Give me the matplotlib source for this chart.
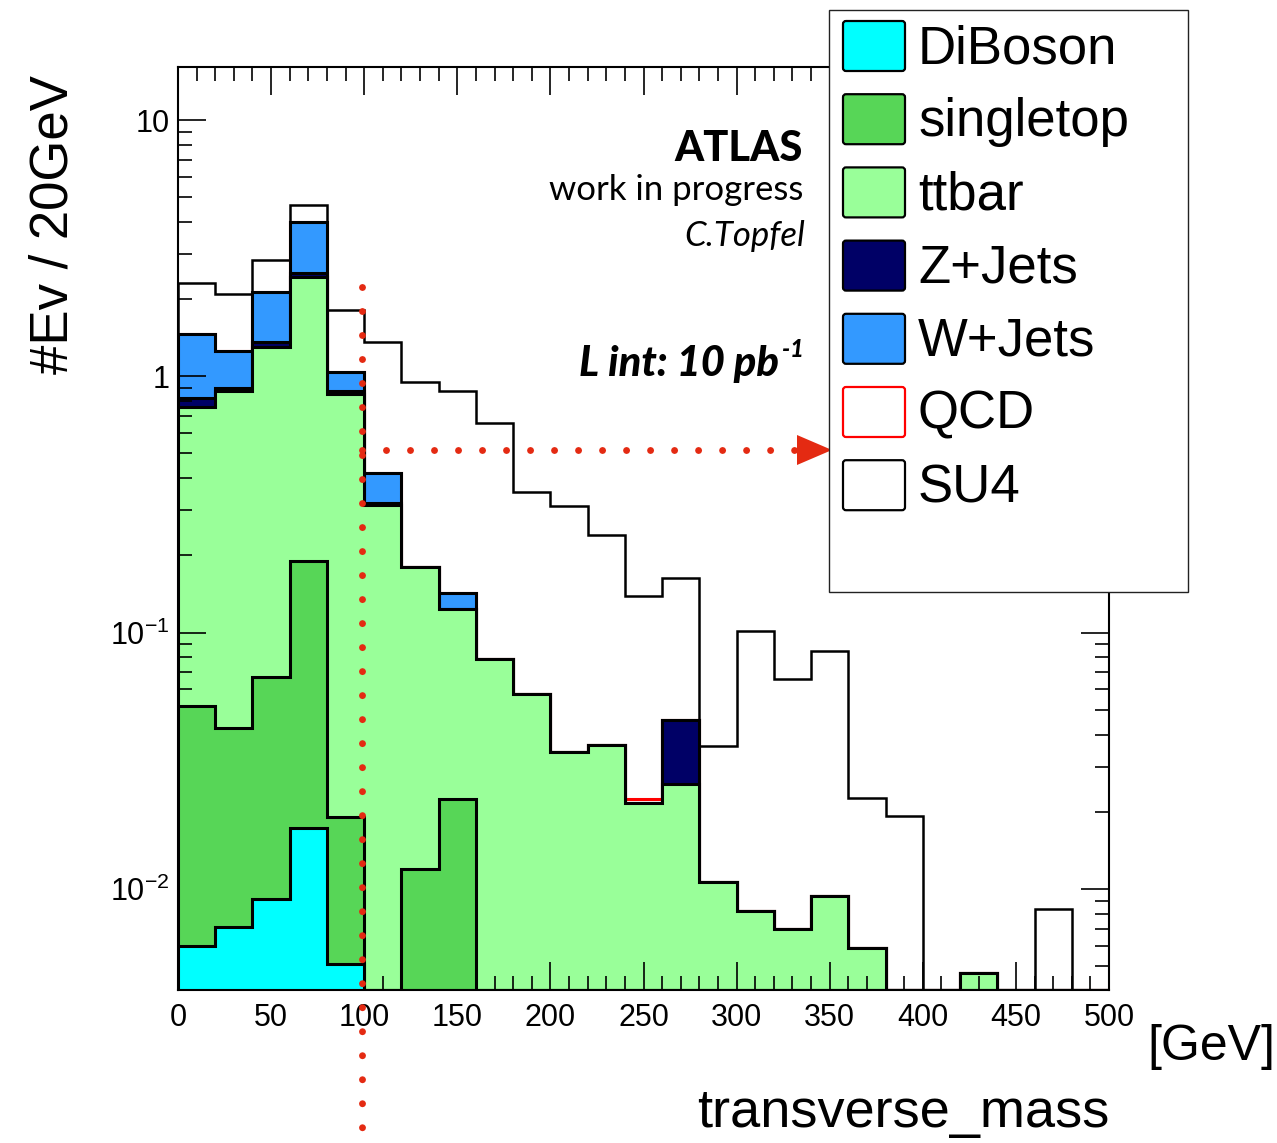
import numpy as np
import matplotlib
matplotlib.use("Agg")
import matplotlib.pyplot as plt
from matplotlib.patches import Rectangle, Polygon, FancyBboxPatch
from matplotlib.lines import Line2D
from matplotlib.ticker import FixedLocator, MultipleLocator, NullFormatter, LogLocator

plt.rcParams["font.family"] = ["Liberation Sans", "DejaVu Sans"]
plt.rcParams["mathtext.fontset"] = "custom"
plt.rcParams["mathtext.rm"] = "Liberation Sans"
plt.rcParams["mathtext.it"] = "Liberation Sans:italic"
plt.rcParams["mathtext.bf"] = "Liberation Sans:bold"

W, H, DPI = 1277, 1143, 100

# 20 GeV bins from 0 to 500 GeV
bin_edges = np.arange(0, 520, 20)

# events per bin for each process (stacked bottom to top)
diboson   = [0.0060, 0.0071, 0.0091, 0.0173, 0.0051, 0, 0, 0, 0, 0, 0, 0, 0,
             0, 0, 0, 0, 0, 0, 0, 0, 0, 0, 0, 0]
singletop = [0.0459, 0.0355, 0.0582, 0.1737, 0.0139, 0, 0.012, 0.0225, 0, 0, 0,
             0, 0, 0, 0, 0, 0, 0, 0, 0, 0, 0, 0, 0, 0]
ttbar     = [0.708, 0.831, 1.233, 2.249, 0.831, 0.316, 0.168, 0.1015, 0.079,
             0.0578, 0.0343, 0.0365, 0.0217, 0.0257, 0.0106, 0.0082, 0.0070,
             0.0094, 0.0059, 0, 0, 0.0047, 0, 0, 0]
zjets     = [0.06, 0.03, 0.06, 0.10, 0.03, 0.005, 0, 0, 0, 0, 0, 0, 0, 0.020,
             0, 0, 0, 0, 0, 0, 0, 0, 0, 0, 0]
wjets     = [0.64, 0.35, 0.77, 1.45, 0.16, 0.097, 0, 0.019, 0, 0, 0, 0, 0, 0,
             0, 0, 0, 0, 0, 0, 0, 0, 0, 0, 0]
qcd       = [0.004, 0, 0.01, 0, 0, 0, 0, 0, 0, 0, 0, 0, 0.0008, 0, 0, 0, 0, 0,
             0, 0, 0, 0, 0, 0, 0]
su4       = [0.845, 0.84, 0.70, 0.69, 0.77, 0.94, 0.767, 0.731, 0.581, 0.297,
             0.277, 0.2045, 0.117, 0.118, 0.0256, 0.093, 0.059, 0.0756, 0.0168,
             0.0193, 0, 0, 0, 0.00835, 0]

labels = ["DiBoson", "singletop", "ttbar", "Z+Jets", "W+Jets", "QCD", "SU4"]
fills  = ["#00FFFF", "#57D657", "#99FF99", "#000066", "#3399FF", "white", "white"]
edges  = ["black", "black", "black", "black", "black", "#FF0000", "black"]

y_ticks = [0.01, 0.1, 1, 10]
y_tick_labels = [r"$10^{-2}$", r"$10^{-1}$", "1", "10"]

YMIN, YMAX = 0.00403, 16.1


def fx(px):
    return px / W


def fy(py):
    return 1 - py / H


fig = plt.figure(figsize=(W / DPI, H / DPI), dpi=DPI)
ax = fig.add_axes([fx(178), fy(990), fx(1109) - fx(178), fy(67) - fy(990)])
ax.set_yscale("log")
ax.set_xlim(0, 500)
ax.set_ylim(YMIN, YMAX)

stack = np.cumsum(np.array([diboson, singletop, ttbar, zjets, wjets, qcd, su4],
                           dtype=float), axis=0)

# draw the cumulative histograms from the top of the stack downwards
for i in range(len(labels) - 1, -1, -1):
    level = np.where(stack[i] > 0, stack[i], YMIN)
    lw = 1.8 if labels[i] == "SU4" else 2.2
    ax.stairs(level, bin_edges, baseline=YMIN, fill=True,
              facecolor=fills[i], edgecolor=edges[i], linewidth=lw,
              zorder=2 + (len(labels) - i) * 0.1)

for side in ax.spines.values():
    side.set_linewidth(1.5)
    side.set_zorder(5)

ax.xaxis.set_major_locator(MultipleLocator(50))
ax.xaxis.set_minor_locator(MultipleLocator(10))
ax.yaxis.set_major_locator(FixedLocator(y_ticks))
ax.set_yticklabels(y_tick_labels)
ax.yaxis.set_minor_locator(LogLocator(base=10, subs=np.arange(2, 10)))
ax.yaxis.set_minor_formatter(NullFormatter())
ax.tick_params(which="both", direction="in", top=True, right=True, width=1.2,
               colors="black", zorder=6)
ax.tick_params(which="major", length=20)
ax.tick_params(which="minor", length=10)
ax.tick_params(axis="x", which="major", labelsize=22, pad=9)
ax.tick_params(axis="y", which="major", labelsize=22, pad=6)
ax.set_axisbelow(False)

# axis titles
fig.text(fx(54), fy(75), "#Ev / 20GeV", rotation=90, ha="center", va="top",
         fontsize=38)
fig.text(fx(1110), fy(1127), "transverse_mass", ha="right", va="baseline",
         fontsize=39)
fig.text(fx(1275), fy(1060), "[GeV]", ha="right", va="baseline", fontsize=36)

# annotation block
fig.text(fx(803), fy(161), "ATLAS", ha="right", va="baseline",
         family="Lato", weight="black", fontsize=30)
fig.text(fx(803), fy(200), "work in progress", ha="right", va="baseline",
         family="Lato", fontsize=25)
fig.text(fx(805), fy(246), "C.Topfel", ha="right", va="baseline",
         family="Lato", style="italic", fontsize=25)
fig.text(fx(779), fy(376), "L int: 10 pb", ha="right", va="baseline",
         family="Lato", weight="black", style="italic", fontsize=30)
fig.text(fx(782), fy(357), "-1", ha="left", va="baseline",
         family="Lato", weight="black", style="italic", fontsize=17)

# red dotted guide lines and arrow
red = "#E42A12"
gap = 24 * 72 / DPI / 5.0
for xs, ys in [([362, 362], [287, 1130]), ([362, 797], [450, 450])]:
    fig.add_artist(Line2D([fx(v) for v in xs], [fy(v) for v in ys],
                          transform=fig.transFigure, color=red, linewidth=5,
                          linestyle=(0, (0.001, gap)), dash_capstyle="round",
                          zorder=20))
fig.add_artist(Polygon([(fx(797), fy(435)), (fx(797), fy(465)),
                        (fx(832), fy(450))], closed=True,
                       transform=fig.transFigure, facecolor=red,
                       edgecolor="none", zorder=21))

# legend box
fig.add_artist(Rectangle((829, H - 592), 1188 - 829, 592 - 10, transform=None,
                         facecolor="white", edgecolor="#222222", linewidth=1.0,
                         zorder=30))
for k, name in enumerate(labels):
    cy = 46 + 73.2 * k
    fig.add_artist(FancyBboxPatch((843, H - (cy + 25)), 62, 50,
                                  boxstyle="round,pad=0,rounding_size=3",
                                  transform=None, facecolor=fills[k],
                                  edgecolor=edges[k], linewidth=1.6, zorder=31))
    fig.text(fx(918), fy(cy + 17), name, ha="left", va="baseline",
             fontsize=38, zorder=32)

fig.savefig("out.png", dpi=DPI)
